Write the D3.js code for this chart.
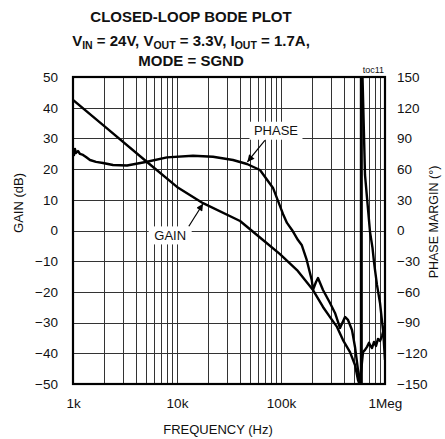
<!DOCTYPE html>
<html><head><meta charset="utf-8">
<script src="https://cdn.jsdelivr.net/npm/d3@7/dist/d3.min.js"></script>
<style>body{margin:0;background:#fff} text{font-family:"Liberation Sans",Arial,sans-serif;fill:#111}</style>
</head><body><svg id="c" width="445" height="439"></svg>
<script>
// ---- data ----
const freqTicks = [1e3, 1e4, 1e5, 1e6];
const freqTickLabels = ["1k", "10k", "100k", "1Meg"];
const gainTicks = [50, 40, 30, 20, 10, 0, -10, -20, -30, -40, -50];
const phaseTicks = [150, 120, 90, 60, 30, 0, -30, -60, -90, -120, -150];

const gainFreq = [1000, 2000, 5150, 10000, 17800, 40400, 67100, 97800, 142500, 203200, 253400, 296000, 345500, 394700, 460900, 514700, 550200, 568700, 587800, 614400, 642300, 671400, 701900, 717600, 749900, 783800, 819400, 856500, 895300, 935900, 967300, 1000000];
const gainDb = [42.5, 34.0, 22.3, 14.2, 8.9, 3.1, -3.1, -7.7, -12.9, -19.4, -24.9, -28.2, -31.4, -35.7, -39.6, -43.8, -48.7, -50, -46.1, -39.6, -38.9, -37.9, -36.6, -37.3, -38.3, -36.3, -37.6, -35.3, -36.0, -34.4, -32.4, -30.8];

const phaseFreq = [1000, 1022, 1045, 1069, 1117, 1168, 1248, 1334, 1457, 1664, 1943, 2424, 3306, 5150, 8010, 14250, 22190, 34550, 47110, 62810, 83790, 104500, 114200, 127600, 145700, 158100, 176700, 197400, 203200, 217000, 226900, 253400, 296000, 330600, 369300, 412500, 440900, 481700, 514700, 550200, 575000, 587800, 587800, 607700, 642300, 717600, 758200, 783800, 801400, 837800, 895300, 963100, 1000000];
const phaseDeg = [78.7, 73.8, 79.7, 75.7, 77.7, 74.8, 73.8, 71.8, 68.9, 67.0, 66.0, 64.0, 63.5, 67.2, 71.5, 73.1, 72.1, 68.9, 65.0, 59.1, 41.6, 16.2, 7.4, 0.5, -9.3, -14.1, -28.8, -48.3, -58.1, -50.3, -46.4, -58.1, -70.8, -80.6, -95.2, -84.5, -87.4, -97.2, -113.8, -136.3, -150, -150, 150, 150, 54.3, -1.4, -17.0, -30.7, -38.5, -53.2, -70.8, -100.1, -126.5];

// ---- layout ----
const svg = d3.select("#c");
const L = 73, R = 385, T = 77, B = 384;
const x = d3.scaleLog().domain([1e3, 1e6]).range([L, R]);
const yG = d3.scaleLinear().domain([-50, 50]).range([B, T]);
const yP = d3.scaleLinear().domain([-150, 150]).range([B, T]);

svg.append("rect").attr("width", 445).attr("height", 439).attr("fill", "#fff");

// grid
const minor = [];
[1e3, 1e4, 1e5].forEach(d => { for (let k = 1; k <= 9; k++) minor.push(d * k); });
minor.push(1e6);
const grid = svg.append("g").attr("stroke", "#333").attr("stroke-width", 1);
grid.selectAll("line.v").data(minor).join("line")
  .attr("x1", d => Math.round(x(d)) + 0.5).attr("x2", d => Math.round(x(d)) + 0.5)
  .attr("y1", T).attr("y2", B);
grid.selectAll("line.h").data(gainTicks).join("line")
  .attr("y1", d => Math.round(yG(d)) + 0.5).attr("y2", d => Math.round(yG(d)) + 0.5)
  .attr("x1", L).attr("x2", R);

// frame
svg.append("rect").attr("x", L).attr("y", T).attr("width", R - L).attr("height", B - T)
  .attr("fill", "none").attr("stroke", "#000").attr("stroke-width", 2.2);

// axes labels
const fs = 13.5;
const ax = svg.append("g").attr("transform", `translate(${L},0)`)
  .call(d3.axisLeft(yG).tickValues(gainTicks).tickSize(0).tickPadding(15).tickFormat(d3.format("d")));
const axR = svg.append("g").attr("transform", `translate(${R},0)`)
  .call(d3.axisRight(yP).tickValues(phaseTicks).tickSize(0).tickPadding(12).tickFormat(d3.format("d")));
const axB = svg.append("g").attr("transform", `translate(0,${B})`)
  .call(d3.axisBottom(x).tickValues(freqTicks).tickSize(0).tickPadding(14).tickFormat((d, i) => freqTickLabels[i]));
[ax, axR, axB].forEach(a => {
  a.select(".domain").remove();
  a.selectAll("text").attr("font-size", fs).attr("font-family", "Liberation Sans, Arial, sans-serif").attr("fill", "#111");
});

// annotation boxes
const lab = svg.append("g");
function labelBox(cx, cy, w, h, txt) {
  lab.append("rect").attr("x", cx - w / 2).attr("y", cy - h / 2).attr("width", w).attr("height", h).attr("fill", "#fff");
  lab.append("text").attr("x", cx).attr("y", cy).attr("dy", "0.36em").attr("text-anchor", "middle")
    .attr("font-size", 13).text(txt);
}
labelBox(x(8600), yG(-1.6), 43, 18, "GAIN");
labelBox(x(89500), yP(97.5), 53, 18, "PHASE");

// arrows
const defs = svg.append("defs");
defs.append("marker").attr("id", "ah").attr("viewBox", "0 0 10 10").attr("refX", 10).attr("refY", 5)
  .attr("markerWidth", 9).attr("markerHeight", 7).attr("markerUnits", "userSpaceOnUse").attr("orient", "auto")
  .append("path").attr("d", "M0,0L10,5L0,10z").attr("fill", "#000");
svg.append("line").attr("x1", x(13000)).attr("y1", yG(1.4)).attr("x2", x(17800)).attr("y2", yG(8.7))
  .attr("stroke", "#000").attr("stroke-width", 1.2).attr("marker-end", "url(#ah)");
svg.append("line").attr("x1", x(70000)).attr("y1", yP(88)).attr("x2", x(47500)).attr("y2", yP(67))
  .attr("stroke", "#000").attr("stroke-width", 1.2).attr("marker-end", "url(#ah)");

// curves
defs.append("clipPath").attr("id", "clip").append("rect").attr("x", L).attr("y", T - 1).attr("width", R - L).attr("height", B - T + 2);
const curves = svg.append("g").attr("clip-path", "url(#clip)");
const lg = d3.line().x((d, i) => x(gainFreq[i])).y(d => yG(d));
const lp = d3.line().x((d, i) => x(phaseFreq[i])).y(d => yP(d));
curves.append("path").attr("d", lg(gainDb)).attr("fill", "none").attr("stroke", "#000").attr("stroke-width", 2.4).attr("stroke-linejoin", "round");
curves.append("path").attr("d", lp(phaseDeg)).attr("fill", "none").attr("stroke", "#000").attr("stroke-width", 2.4).attr("stroke-linejoin", "round");

// titles
const tt = svg.append("g").attr("font-weight", "bold").attr("font-size", 15);
tt.append("text").attr("x", 191).attr("y", 22).attr("text-anchor", "middle").attr("font-weight", "bold").attr("font-size", 15).text("CLOSED-LOOP BODE PLOT");
const l2 = tt.append("text").attr("x", 191).attr("y", 46).attr("text-anchor", "middle").attr("font-weight", "bold").attr("font-size", 15);
const parts = [["V", 0], ["IN", 1], [" = 24V, V", 0], ["OUT", 1], [" = 3.3V, I", 0], ["OUT", 1], [" = 1.7A,", 0]];
parts.forEach(([t, s], i) => {
  const prev = i > 0 ? parts[i - 1][1] : 0;
  const ts = l2.append("tspan").text(t);
  if (s) ts.attr("font-size", 10.5).attr("dy", 3);
  else { ts.attr("font-size", 15); if (prev) ts.attr("dy", -3); }
});
tt.append("text").attr("x", 191).attr("y", 66).attr("text-anchor", "middle").attr("font-weight", "bold").attr("font-size", 15).text("MODE = SGND");

svg.append("text").attr("x", 384).attr("y", 73).attr("text-anchor", "end").attr("font-size", 9).text("toc11");

svg.append("text").attr("transform", "translate(23,203) rotate(-90)").attr("text-anchor", "middle").attr("font-size", 13).text("GAIN (dB)");
svg.append("text").attr("transform", "translate(438,222) rotate(-90)").attr("text-anchor", "middle").attr("font-size", 12.5).text("PHASE MARGIN (°)");
svg.append("text").attr("x", 218).attr("y", 434).attr("text-anchor", "middle").attr("font-size", 13).text("FREQUENCY (Hz)");
</script></body></html>
